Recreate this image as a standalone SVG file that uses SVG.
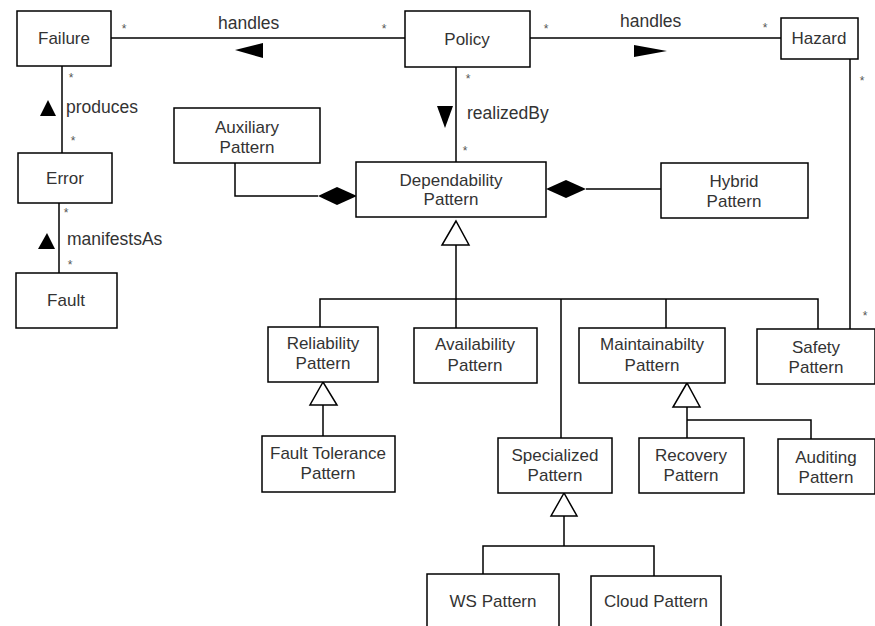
<svg xmlns="http://www.w3.org/2000/svg" width="875" height="626" viewBox="0 0 875 626">
<style>
.box{fill:#fff;stroke:#000;stroke-width:1.5}
.ln{fill:none;stroke:#000;stroke-width:1.5}
.t{font-family:"Liberation Sans",Arial,sans-serif;font-size:17px;fill:#333;text-anchor:middle;dominant-baseline:central}
.l{font-family:"Liberation Sans",Arial,sans-serif;font-size:17.5px;fill:#333;dominant-baseline:central}
.s{font-family:"Liberation Sans",Arial,sans-serif;font-size:12px;fill:#555;text-anchor:middle;dominant-baseline:central}
.tri{fill:#fff;stroke:#000;stroke-width:1.5}
.blk{fill:#000}
</style>
<rect width="875" height="626" fill="#fff"/>
<g id="connectors">
  <path class="ln" d="M111 38 H405"/>
  <path class="ln" d="M530 38 H781"/>
  <path class="ln" d="M62 66 V153"/>
  <path class="ln" d="M59 203 V273"/>
  <path class="ln" d="M456 67 V162"/>
  <path class="ln" d="M235 163 V196 H318"/>
  <path class="blk" d="M318 196 L337 187 L357 196 L337 205 Z"/>
  <path class="ln" d="M586 189 H661"/>
  <path class="blk" d="M546 189 L566 180 L586 189 L566 198 Z"/>
  <path class="ln" d="M850 59 V329"/>
  <path class="ln" d="M456 245 V328"/>
  <path class="tri" d="M456 221 L442 245 L469 245 Z"/>
  <path class="ln" d="M320 327 V299 H818 V329"/>
  <path class="ln" d="M561 299 V438"/>
  <path class="ln" d="M666 299 V328"/>
  <path class="ln" d="M323 405 V436"/>
  <path class="tri" d="M323 382 L310 405 L337 405 Z"/>
  <path class="ln" d="M687 407 V438"/>
  <path class="ln" d="M687 420 H811 V439"/>
  <path class="tri" d="M687 383 L673 407 L700 407 Z"/>
  <path class="ln" d="M564 516 V546"/>
  <path class="ln" d="M483 574 V546 H654 V576"/>
  <path class="tri" d="M564 493 L551 516 L577 516 Z"/>
  <path class="blk" d="M235 50 L263 43 L263 58 Z"/>
  <path class="blk" d="M667 51 L634 45 L634 57 Z"/>
  <path class="blk" d="M445 128 L437 106 L453 106 Z"/>
  <path class="blk" d="M48 100 L40 116 L56 116 Z"/>
  <path class="blk" d="M47 233 L38 249 L55 249 Z"/>
  <text class="l" x="218" y="23">handles</text>
  <text class="l" x="620" y="21">handles</text>
  <text class="l" x="66" y="107">produces</text>
  <text class="l" x="67" y="239">manifestsAs</text>
  <text class="l" x="467" y="113">realizedBy</text>
  <text class="s" x="124" y="29">*</text>
  <text class="s" x="384" y="29">*</text>
  <text class="s" x="546" y="29">*</text>
  <text class="s" x="765" y="28">*</text>
  <text class="s" x="71" y="78">*</text>
  <text class="s" x="73" y="141">*</text>
  <text class="s" x="66" y="213">*</text>
  <text class="s" x="70" y="265">*</text>
  <text class="s" x="468" y="79">*</text>
  <text class="s" x="465" y="151">*</text>
  <text class="s" x="862" y="81">*</text>
  <text class="s" x="865" y="316">*</text>
</g>
<g id="failure"><rect class="box" x="17" y="11" width="94" height="55"/><text class="t" x="64" y="38">Failure</text></g>
<g id="policy"><rect class="box" x="405" y="11" width="125" height="56"/><text class="t" x="467" y="39">Policy</text></g>
<g id="hazard"><rect class="box" x="781" y="18" width="77" height="41"/><text class="t" x="819" y="38">Hazard</text></g>
<g id="error"><rect class="box" x="18" y="153" width="94" height="50"/><text class="t" x="65" y="178">Error</text></g>
<g id="fault"><rect class="box" x="16" y="273" width="101" height="55"/><text class="t" x="66" y="300">Fault</text></g>
<g id="auxiliary"><rect class="box" x="174" y="108" width="146" height="55"/><text class="t" x="247" y="127">Auxiliary</text><text class="t" x="247" y="147">Pattern</text></g>
<g id="dependability"><rect class="box" x="356" y="162" width="190" height="55"/><text class="t" x="451" y="180">Dependability</text><text class="t" x="451" y="199">Pattern</text></g>
<g id="hybrid"><rect class="box" x="661" y="163" width="147" height="55"/><text class="t" x="734" y="181">Hybrid</text><text class="t" x="734" y="201">Pattern</text></g>
<g id="reliability"><rect class="box" x="268" y="327" width="110" height="55"/><text class="t" x="323" y="343">Reliability</text><text class="t" x="323" y="363">Pattern</text></g>
<g id="availability"><rect class="box" x="414" y="328" width="123" height="55"/><text class="t" x="475" y="344">Availability</text><text class="t" x="475" y="365">Pattern</text></g>
<g id="maintainability"><rect class="box" x="579" y="328" width="146" height="55"/><text class="t" x="652" y="344">Maintainabilty</text><text class="t" x="652" y="365">Pattern</text></g>
<g id="safety"><rect class="box" x="757" y="329" width="118" height="55"/><text class="t" x="816" y="347">Safety</text><text class="t" x="816" y="367">Pattern</text></g>
<g id="faulttolerance"><rect class="box" x="262" y="436" width="133" height="56"/><text class="t" x="328" y="453">Fault Tolerance</text><text class="t" x="328" y="473">Pattern</text></g>
<g id="specialized"><rect class="box" x="498" y="438" width="114" height="55"/><text class="t" x="555" y="455">Specialized</text><text class="t" x="555" y="475">Pattern</text></g>
<g id="recovery"><rect class="box" x="639" y="438" width="105" height="55"/><text class="t" x="691" y="455">Recovery</text><text class="t" x="691" y="475">Pattern</text></g>
<g id="auditing"><rect class="box" x="778" y="439" width="97" height="55"/><text class="t" x="826" y="457">Auditing</text><text class="t" x="826" y="477">Pattern</text></g>
<g id="ws"><rect class="box" x="427" y="574" width="132" height="60"/><text class="t" x="493" y="601">WS Pattern</text></g>
<g id="cloud"><rect class="box" x="591" y="576" width="130" height="58"/><text class="t" x="656" y="601">Cloud Pattern</text></g>
</svg>
